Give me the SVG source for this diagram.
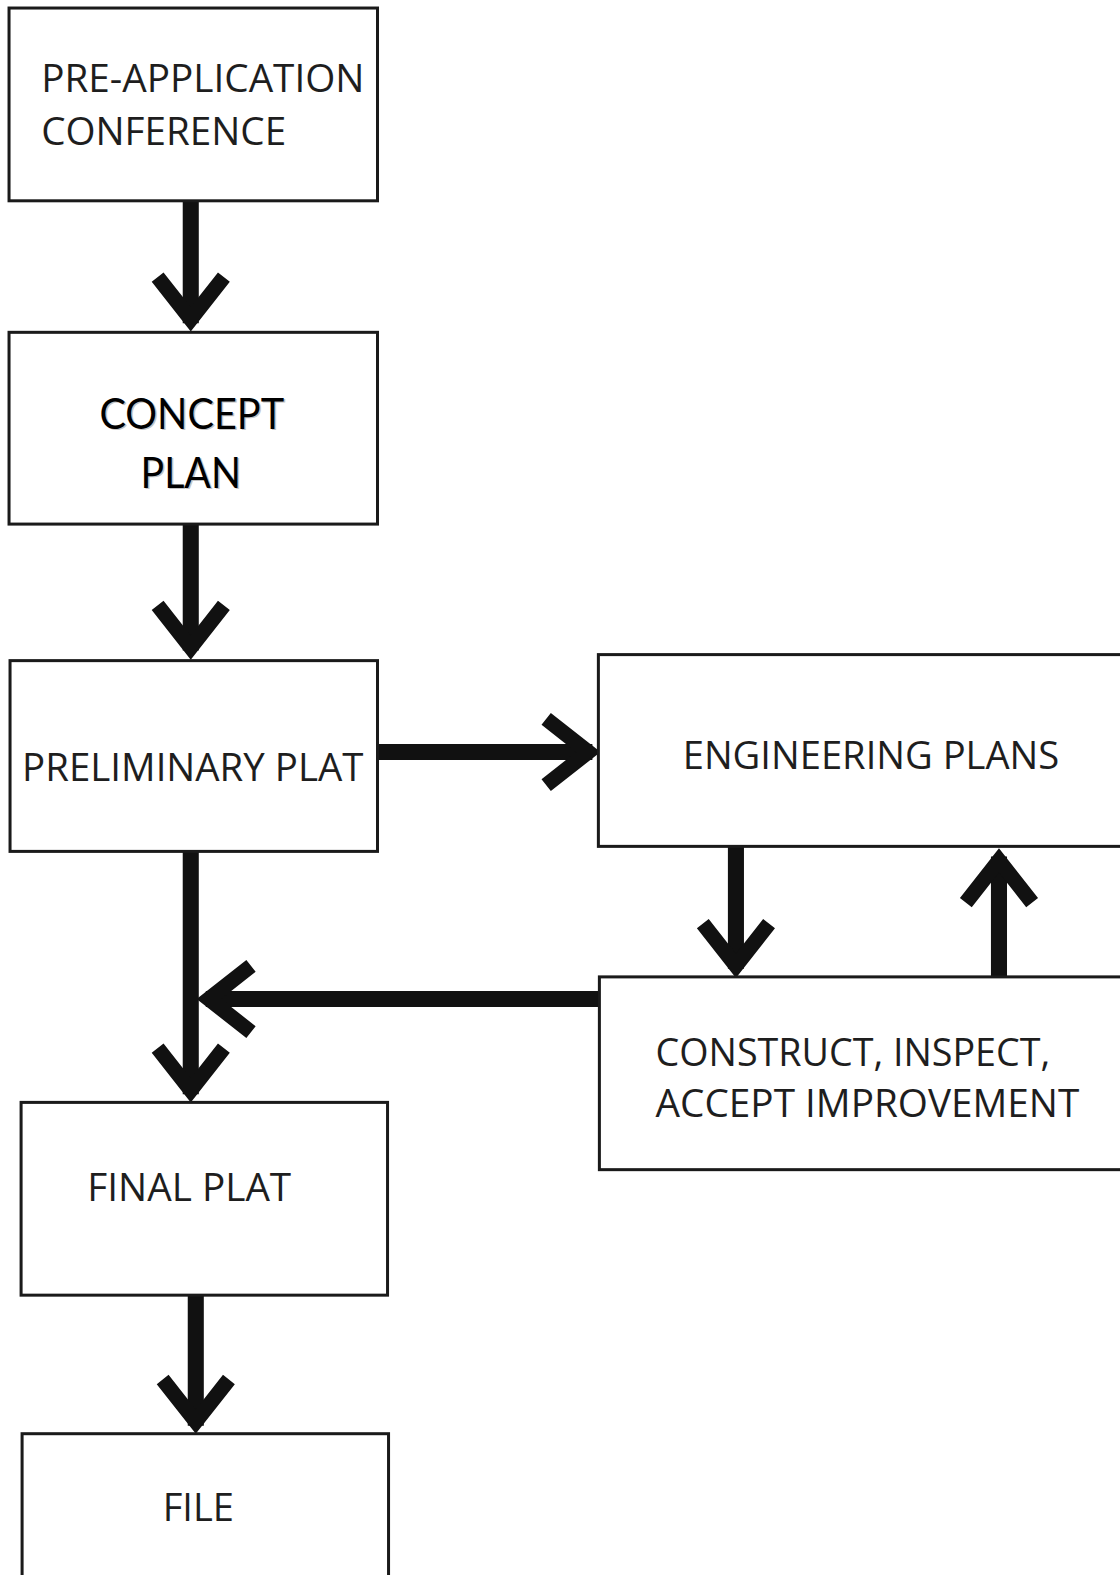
<svg xmlns="http://www.w3.org/2000/svg" xmlns:xlink="http://www.w3.org/1999/xlink" width="1120" height="1575" viewBox="0 0 1120 1575">
<style>
.box{fill:#fff;stroke:#1a1a1a;stroke-width:3}
.lbl{font-family:"Open Sans","Noto Sans","Liberation Sans",sans-serif;font-size:39px;fill:#1e1e1e}
.cal{font-family:Lato,"Open Sans","Liberation Sans",sans-serif;font-size:43px;fill:#000}
.shd{font-family:Lato,"Open Sans","Liberation Sans",sans-serif;font-size:43px;fill:#c4c4c4}
.shaft{stroke:#111;stroke-width:16;fill:none}
.head{stroke:#111;stroke-width:15;fill:none;stroke-linejoin:miter;stroke-miterlimit:10}
</style>
<defs>
<polyline id="head" class="head" points="-33,-54 0,-12 33,-54"/>
</defs>
<rect width="1120" height="1575" fill="#fff"/>
<g transform="scale(1.004)">
<g id="connectors">
<line class="shaft" x1="190" y1="200" x2="190" y2="322"/>
<use xlink:href="#head" href="#head" transform="translate(190,330)"/>
<line class="shaft" x1="190" y1="522" x2="190" y2="648"/>
<use xlink:href="#head" href="#head" transform="translate(190,657)"/>
<line class="shaft" x1="376" y1="749" x2="590" y2="749"/>
<use xlink:href="#head" href="#head" transform="translate(598,749) rotate(-90)"/>
<line class="shaft" x1="733" y1="843" x2="733" y2="965"/>
<use xlink:href="#head" href="#head" transform="translate(733,974)"/>
<line class="shaft" x1="995" y1="973" x2="995" y2="853"/>
<use xlink:href="#head" href="#head" transform="translate(995,845) rotate(180)"/>
<line class="shaft" x1="597" y1="995" x2="205" y2="995"/>
<use xlink:href="#head" href="#head" transform="translate(196,995) rotate(90)"/>
<line class="shaft" x1="190" y1="848" x2="190" y2="1090"/>
<use xlink:href="#head" href="#head" transform="translate(190,1098)"/>
<line class="shaft" x1="195" y1="1290" x2="195" y2="1420"/>
<use xlink:href="#head" href="#head" transform="translate(195,1428)"/>
</g>
<g id="pre-application">
<rect class="box" x="9" y="8" width="367" height="192"/>
<text class="lbl" x="41" y="92" textLength="322" lengthAdjust="spacingAndGlyphs">PRE-APPLICATION</text>
<text class="lbl" x="41" y="144" textLength="244" lengthAdjust="spacingAndGlyphs">CONFERENCE</text>
</g>
<g id="concept-plan">
<rect class="box" x="9" y="331" width="367" height="191"/>
<text class="shd" x="100.5" y="428.5" textLength="184" lengthAdjust="spacingAndGlyphs">CONCEPT</text>
<text class="cal" x="99" y="427" textLength="184" lengthAdjust="spacingAndGlyphs">CONCEPT</text>
<text class="shd" x="141.5" y="487.5" textLength="100" lengthAdjust="spacingAndGlyphs">PLAN</text>
<text class="cal" x="140" y="486" textLength="100" lengthAdjust="spacingAndGlyphs">PLAN</text>
</g>
<g id="preliminary-plat">
<rect class="box" x="10" y="658" width="366" height="190"/>
<text class="lbl" x="22" y="778" textLength="340" lengthAdjust="spacingAndGlyphs">PRELIMINARY PLAT</text>
</g>
<g id="engineering-plans">
<rect class="box" x="596" y="652" width="600" height="191"/>
<text class="lbl" x="680" y="766" textLength="375" lengthAdjust="spacingAndGlyphs">ENGINEERING PLANS</text>
</g>
<g id="construct">
<rect class="box" x="597" y="973" width="600" height="192"/>
<text class="lbl" x="653" y="1062" textLength="393" lengthAdjust="spacingAndGlyphs">CONSTRUCT, INSPECT,</text>
<text class="lbl" x="653" y="1113" textLength="422" lengthAdjust="spacingAndGlyphs">ACCEPT IMPROVEMENT</text>
</g>
<g id="final-plat">
<rect class="box" x="21" y="1098" width="365" height="192"/>
<text class="lbl" x="87" y="1196" textLength="203" lengthAdjust="spacingAndGlyphs">FINAL PLAT</text>
</g>
<g id="file">
<rect class="box" x="22" y="1428" width="365" height="160"/>
<text class="lbl" x="162" y="1515" textLength="71" lengthAdjust="spacingAndGlyphs">FILE</text>
</g>
</g>
</svg>
